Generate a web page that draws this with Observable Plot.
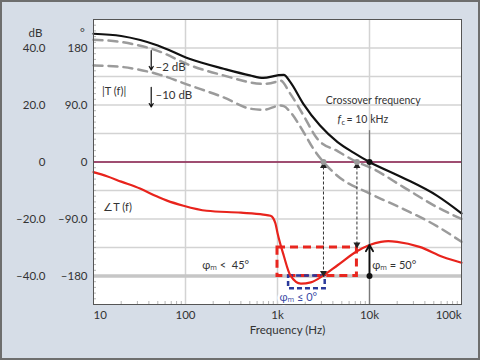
<!DOCTYPE html>
<html><head><meta charset="utf-8">
<script src="https://cdn.jsdelivr.net/npm/d3@7"></script>
<script src="https://cdn.jsdelivr.net/npm/@observablehq/plot@0.6"></script>
<style>
html,body{margin:0;padding:0;background:#d6dde7;overflow:hidden;}
#frame{position:fixed;left:0;top:0;width:480px;height:360px;box-sizing:border-box;border:2px solid #6e6e6e;pointer-events:none;}
</style></head><body>
<div id="chart"></div><div id="frame"></div>
<script>
// ---- data ----
const magFreq  = [10,20,50,110,260,500,700,1000,1170,1380,1900,2900,4500,6700,10000,23000,54000,100000];
const magBase  = [45,44.2,40.9,36.2,32.7,30.4,29.5,30.4,30.6,28,20.5,12.8,7,3.3,0,-5.5,-11.8,-18];

const m2Freq   = [10,21,49,113,258,706,1000,1070,1380,1920,2700,4500,7300,10300,23400,54000,100000];
const mag2dB   = [42.9,42,39.1,33.9,30.4,27.4,28.3,28.6,23.9,16.3,8.2,3.8,0,-2,-8.8,-15.8,-20];

const m10Freq  = [10,21,49,113,258,508,706,1070,1170,1380,1920,2460,3160,4500,10300,23400,54000,100000];
const mag10dB  = [33.9,33.3,30.9,26.8,22.7,18.7,18.3,19.8,19.6,17.5,10.5,4.6,0,-4.9,-11.2,-16.5,-22.5,-28];

const phFreq   = [10,14,20,32,50,63,95,170,400,700,840,900,950,1000,1170,1380,1800,2300,3160,4500,7300,10000,13300,16000,20000,35000,63000,100000];
const phaseDeg = [-16,-22.5,-31,-42,-55,-61,-69,-77,-80,-83,-85,-89,-97,-112,-148,-179,-192,-190,-179,-163,-141,-131,-126,-125,-126,-134,-150,-159];

const xTicks   = [10,100,1000,10000,100000];
const xLabels  = ["10","100","1k","10k","100k"];
const dbTicks  = [40,20,0,-20,-40];
const dbLabels = ["40.0","20.0","0","\u201320.0","\u201340.0"];
const phLabels = ["180","90.0","0","\u201390.0","\u2013180"];

const fc = 10000;          // crossover frequency
const fc2 = 7300;          // -2 dB crossing
const fc10 = 3160;         // -10 dB crossing

// phase (deg) -> shared vertical scale (dB units): 180 deg = 40 dB
const ph = d => d / 4.5;

const series = (fs, vs) => fs.map((f, i) => ({f, v: vs[i]}));
const black = series(magFreq, magBase);
const d2 = series(m2Freq, mag2dB);
const d10 = series(m10Freq, mag10dB);
const red = series(phFreq, phaseDeg).map(d => ({f: d.f, v: ph(d.v)}));

const gridY = d3.range(-40, 50, 10);
const gridX = [100, 1000, 10000];
const minorY = d3.range(-50, 50, 2);
const minorX = [];
for (let e = 10; e < 100000; e *= 10) for (let k = 2; k <= 9; k++) minorX.push(e * k);

const dbMap = new Map(dbTicks.map((t, i) => [t, dbLabels[i]]));
const phMap = new Map(dbTicks.map((t, i) => [t, phLabels[i]]));
const xMap = new Map(xTicks.map((t, i) => [t, xLabels[i]]));

const txt = "#333";
const FS = 11;

const chart = Plot.plot({
  width: 480, height: 360,
  marginLeft: 93, marginRight: 19, marginTop: 19, marginBottom: 56,
  style: {background: "transparent", fontFamily: "Lato, 'Open Sans', sans-serif", fontSize: "11px", color: txt},
  x: {type: "log", domain: [10, 100000], axis: null},
  y: {domain: [-50, 50], axis: null},
  marks: [
    Plot.frame({fill: "white", stroke: null}),
    Plot.ruleY(gridY, {stroke: "#d3d3d3", strokeWidth: 1.5}),
    Plot.ruleX(gridX, {stroke: "#d3d3d3", strokeWidth: 1.5}),
    Plot.axisY({ticks: minorY, tickSize: -3, tickFormat: () => "", stroke: "#b5b5b5"}),
    Plot.axisX({ticks: minorX, tickSize: -3, tickFormat: () => "", stroke: "#b5b5b5"}),
    // reference lines
    Plot.ruleY([ph(-180)], {stroke: "#c6c6c6", strokeWidth: 3.5}),
    Plot.ruleY([0], {stroke: "#8a1c4c", strokeWidth: 1.5}),
    // phase-margin boxes
    Plot.rect([{x1: 1000, x2: fc2, y1: ph(-180), y2: ph(-135)}], {x1: "x1", x2: "x2", y1: "y1", y2: "y2", fill: "none", stroke: "#e8261f", strokeWidth: 3, strokeDasharray: "8,5"}),
    Plot.rect([{x1: 1320, x2: 3300, y1: ph(-200), y2: ph(-180)}], {x1: "x1", x2: "x2", y1: "y1", y2: "y2", fill: "none", stroke: "#2b3a9c", strokeWidth: 2.5, strokeDasharray: "5,3"}),
    // curves
    Plot.line(d10, {x: "f", y: "v", stroke: "#9b9b9b", strokeWidth: 2.5, strokeDasharray: "9,6", curve: "monotone-x"}),
    Plot.line(d2, {x: "f", y: "v", stroke: "#9b9b9b", strokeWidth: 2.5, strokeDasharray: "9,6", curve: "monotone-x"}),
    Plot.line(black, {x: "f", y: "v", stroke: "#111", strokeWidth: 2.2, curve: "monotone-x"}),
    Plot.line(red, {x: "f", y: "v", stroke: "#e8231c", strokeWidth: 2.2, curve: "monotone-x"}),
    // crossover marker line
    Plot.ruleX([fc], {y1: -50, y2: 11, stroke: "#7a7a7a", strokeWidth: 1.3}),
    // dotted double arrows
    Plot.ruleX([{f: fc10, y1: 0, y2: ph(-180)}, {f: fc2, y1: 0, y2: ph(-135)}], {x: "f", y1: "y1", y2: "y2", stroke: "#333", strokeWidth: 1, strokeDasharray: "3,2"}),
    Plot.dot([{f: fc10, v: 0}, {f: fc2, v: 0}], {x: "f", y: "v", symbol: "triangle", r: 2.6, fill: "#222", stroke: null, dy: 4}),
    Plot.dot([{f: fc10, v: ph(-180)}, {f: fc2, v: ph(-135)}], {x: "f", y: "v", symbol: "triangle", rotate: 180, r: 2.6, fill: "#222", stroke: null, dy: -3}),
    // phase margin arrow at fc
    Plot.arrow([{f: fc, y1: ph(-180), y2: ph(-131)}], {x: "f", y1: "y1", y2: "y2", stroke: "#111", strokeWidth: 1.8, headLength: 6, inset: 0}),
    // gain-step arrows
    Plot.arrow([{f: 42.4, y1: 39.1, y2: 32.3}, {f: 42.4, y1: 26.2, y2: 19.3}], {x: "f", y1: "y1", y2: "y2", stroke: "#111", strokeWidth: 1.2, headLength: 5}),
    // dots
    Plot.dot([{f: fc10, v: 0}, {f: fc2, v: 0}], {x: "f", y: "v", r: 3, fill: "#9a9a9a", stroke: null}),
    Plot.dot([{f: fc, v: 0}, {f: fc, v: ph(-180)}], {x: "f", y: "v", r: 3, fill: "#111", stroke: null}),
    // annotations
    Plot.text(["|T (f)|"], {x: 12.4, y: 24.7, textAnchor: "start", fill: txt, fontSize: FS}),
    Plot.text(["\u20132 dB"], {x: 47.2, y: 33.3, textAnchor: "start", fill: txt, fontSize: 11.5}),
    Plot.text(["\u201310 dB"], {x: 47.2, y: 23.3, textAnchor: "start", fill: txt, fontSize: 11.5}),
    Plot.text(["\u2220T (f)"], {x: 12.8, y: -15.9, textAnchor: "start", fill: txt, fontSize: FS}),
    Plot.text(["\u03C6\u2098 <  45\u00B0"], {x: 152, y: -36.3, textAnchor: "start", fill: txt, fontSize: 11}),
    Plot.text(["\u03C6\u2098 = 50\u00B0"], {x: 10700, y: -36.3, textAnchor: "start", fill: txt, fontSize: 11}),
    Plot.text(["\u03C6\u2098 \u2264 0\u00B0"], {x: 1050, y: -47.4, textAnchor: "start", fill: "#3a4aa6", fontSize: 11, stroke: "white", strokeWidth: 5}),
    Plot.text(["Crossover frequency"], {x: 11000, y: 21.6, fill: txt, fontSize: 10.5}),
    Plot.text(["f"], {x: fc, y: 14.9, dx: -32, textAnchor: "start", fill: txt, fontSize: 11, fontStyle: "italic"}),
    Plot.text(["c"], {x: fc, y: 14.9, dx: -28, dy: 3, textAnchor: "start", fill: txt, fontSize: 7.5}),
    Plot.text(["= 10 kHz"], {x: fc, y: 14.9, dx: -23, textAnchor: "start", fill: txt, fontSize: 10.5}),
    // axes
    Plot.axisY({ticks: dbTicks, tickSize: 0, tickPadding: 48, tickFormat: d => dbMap.get(d), fill: txt, fontSize: 11.5}),
    Plot.axisY({ticks: dbTicks, tickSize: 0, tickPadding: 6, tickFormat: d => phMap.get(d), fill: txt, fontSize: 11.5}),
    Plot.axisX({ticks: [100, 1000, 10000], tickSize: 0, tickPadding: 6, tickFormat: d => xMap.get(d), fill: txt, fontSize: 11.5}),
    Plot.axisX({ticks: [10], tickSize: 0, tickPadding: 6, tickFormat: d => xMap.get(d), textAnchor: "start", fill: txt, fontSize: 11.5}),
    Plot.axisX({ticks: [100000], tickSize: 0, tickPadding: 6, tickFormat: d => xMap.get(d), textAnchor: "end", fill: txt, fontSize: 11.5}),
    Plot.text(["dB"], {frameAnchor: "top-left", textAnchor: "middle", dx: -58, dy: 9, fill: txt, fontSize: 11.5}),
    Plot.text(["\u00B0"], {frameAnchor: "top-left", textAnchor: "middle", dx: -11, dy: 9, fill: txt, fontSize: 11.5}),
    Plot.text(["Frequency (Hz)"], {frameAnchor: "bottom", dx: 10, dy: 29, fill: txt, fontSize: 11.5}),
    Plot.frame({stroke: "#555", strokeWidth: 1})
  ]
});
document.getElementById("chart").appendChild(chart);
</script></body></html>
